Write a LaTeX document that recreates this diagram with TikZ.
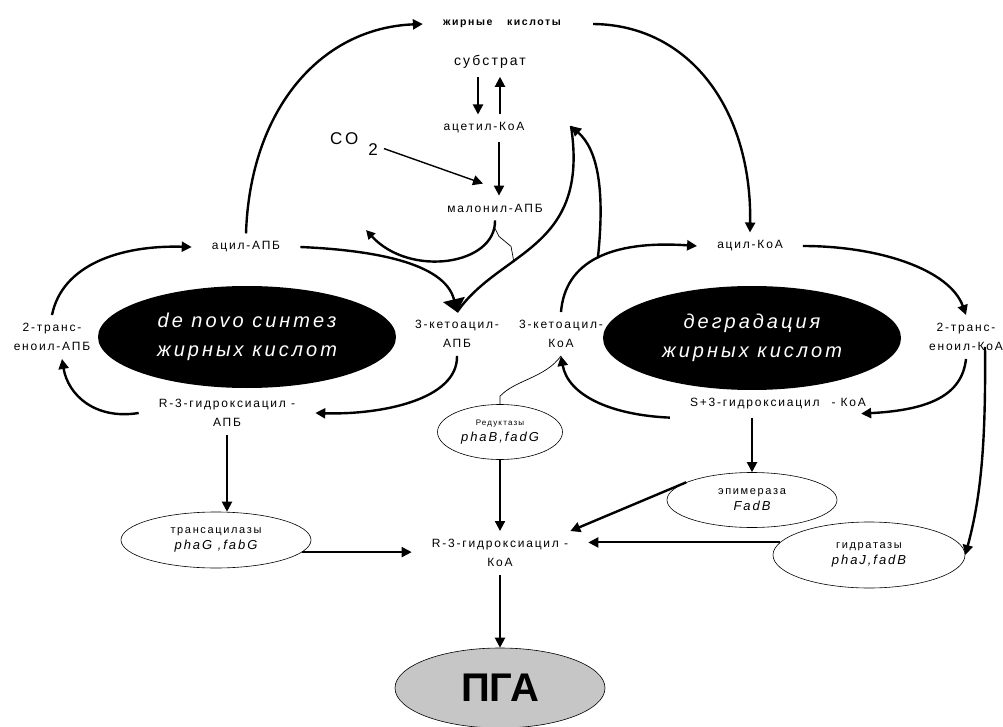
\documentclass[tikz,border=0pt]{standalone}
\usepackage{fontspec}
\setmainfont{Liberation Sans}
\newfontfamily\spaced[LetterSpace=15]{Liberation Sans}
\usetikzlibrary{arrows.meta, positioning, shapes.geometric}
\tikzset{>/.tip={Triangle[width=10pt,length=10pt]}}
\tikzset{
  lbl/.style={font=\spaced\fontsize{12}{19}\selectfont, align=center, inner xsep=20pt, inner ysep=8pt},
  cyc/.style={ellipse, fill=black, text=white, font=\spaced\itshape\fontsize{20}{29}\selectfont, align=center, inner sep=0pt, minimum width=298pt, minimum height=102pt},
  enz/.style={ellipse, draw, line width=0.6pt, align=center, inner sep=0pt, font=\spaced\fontsize{11}{16}\selectfont},
  flow/.style={->, line width=2.4pt},
  arr/.style={->, line width=2pt},
  thinline/.style={line width=0.7pt},
  bigtip/.style={-{Triangle[width=22pt,length=13pt]}},
}
\begin{document}
\begin{tikzpicture}[x=1pt, y=-1pt]
\useasboundingbox (0,0) rectangle (1003,727);
\node[lbl, font=\spaced\bfseries\fontsize{10.5}{12}\selectfont] (fa) at (502,24) {жирные\hspace{1.4em}кислоты};
\node[lbl, font=\spaced\fontsize{14}{16}\selectfont] (sub) at (490,62) {субстрат};
\node[lbl] (acoa) at (484,128) {ацетил-КоА};
\node[font=\spaced\fontsize{17}{18}\selectfont, anchor=base west, inner sep=0pt] (co) at (330,145) {CO\hspace{10pt}\raisebox{-11pt}{2}};
\node[lbl] (mal) at (495,208) {малонил-АПБ};
\node[lbl] (aacp) at (246,247) {ацил-АПБ};
\node[lbl] (acylcoa) at (750,246) {ацил-КоА};
\node[cyc] (denovo) at (247,337) {de novo синтез\\жирных кислот};
\node[cyc, minimum height=104pt] (degr) at (752,338) {деградация\\жирных кислот};
\node[lbl] (enacp) at (52,337) {2-транс-\\еноил-АПБ};
\node[lbl] (encoa) at (966,337) {2-транс-\\еноил-КоА};
\node[lbl] (ketacp) at (457,334) {3-кетоацил-\\АПБ};
\node[lbl] (ketcoa) at (561,334) {3-кетоацил-\\КоА};
\node[lbl] (hacp) at (227,413) {R-3-гидроксиацил -\\АПБ};
\node[lbl] (hscoa) at (778,404) {S+3-гидроксиацил\quad - КоА};
\node[lbl] (hrcoa) at (500,553) {R-3-гидроксиацил -\\КоА};
\node[enz, minimum width=125pt, minimum height=55pt] (red) at (500,432) {{\fontsize{8}{10}\selectfont Редуктазы}\\{\itshape\fontsize{13}{15}\selectfont phaB,fadG}};
\node[enz, minimum width=190pt, minimum height=56pt] (tra) at (216,540) {трансацилазы\\{\itshape\fontsize{13}{15}\selectfont phaG ,fabG\hspace{12pt}}};
\node[enz, minimum width=170pt, minimum height=55pt] (epi) at (752,500) {эпимераза\\{\itshape\fontsize{13}{15}\selectfont FadB}};
\node[enz, minimum width=192pt, minimum height=66pt] (hyd) at (869,555) {гидратазы\\{\itshape\fontsize{13}{15}\selectfont phaJ,fadB}};
\node[ellipse, draw, line width=0.6pt, fill=gray!45, minimum width=210pt, minimum height=80pt, font=\bfseries\fontsize{40}{44}\selectfont] (pha) at (500,688) {ПГА};
\coordinate (thio) at (571,126);

\draw[flow] (aacp.north) .. controls (250,110) and (320,28) .. (fa.west);
\draw[flow] ([xshift=12pt]fa.east) .. controls (690,25) and (752,110) .. (acylcoa.north);
\draw[arr] ([xshift=-12pt]sub.south) -- ([xshift=-12pt]sub.south |- acoa.north);
\draw[arr] ([xshift=10pt]sub.south |- acoa.north) -- ([xshift=10pt]sub.south);
\draw[arr] ([xshift=15pt]acoa.south) -- ([xshift=15pt]acoa.south |- mal.north);
\draw[line width=1.4pt, ->] ([xshift=6pt,yshift=-4pt]co.east) -- ([xshift=-12pt,yshift=12pt]mal.north);

\draw[flow] (enacp.north) .. controls (62,265) and (120,245) .. (aacp.west);
\draw[flow] (hacp.west) .. controls (95,420) and (68,395) .. ([xshift=10pt]enacp.south);
\draw[flow] (ketacp.south) .. controls (458,400) and (380,415) .. (hacp.east);
\draw[line width=2.4pt, bigtip] (aacp.east) .. controls (370,250) and (445,262) .. (ketacp.north);
\draw[line width=2.4pt] (thio) .. controls (590,250) and (500,250) .. (ketacp.north);
\draw[flow, -{Triangle[width=9pt,length=9pt]}] (mal.south) .. controls (496,265) and (410,278) .. (366,230);
\draw[thinline] ([yshift=-8pt]mal.south) -- ++(4,8) -- ++(12,10) -- ++(3,16);

\draw[flow] (ketcoa.north) .. controls (565,262) and (610,240) .. node[coordinate, pos=0.5] (jn) {} (acylcoa.west);
\draw[flow] (jn) .. controls (605,190) and (598,150) .. (thio);
\draw[flow] (acylcoa.east) .. controls (880,246) and (950,270) .. (encoa.north);
\draw[flow] (encoa.south) .. controls (962,395) and (930,410) .. ([xshift=-25pt,yshift=4pt]hscoa.south east);
\draw[flow] (hscoa.south west) .. controls (610,415) and (568,395) .. (ketcoa.south);
\draw[thinline] (red.north) -- ++(0,-8) .. controls (515,380) and (545,378) .. (ketcoa.south);
\draw[flow] ([xshift=19pt,yshift=12pt]encoa.south) .. controls (986,450) and (980,500) .. (hyd.east);

\draw[arr] (epi.north |- hscoa.south) -- (epi.north);
\draw[flow] (epi.165) -- ([xshift=-18pt]hrcoa.north east);
\draw[arr] (hyd.172) -- (hyd.172 -| hrcoa.east);
\draw[arr] (tra.-8) -- (tra.-8 -| hrcoa.west);
\draw[arr] (red.south) -- (hrcoa.north);
\draw[arr] (hacp.south) -- (hacp.south |- tra.north);
\draw[arr] (hrcoa.south) -- (pha.north);
\end{tikzpicture}
\end{document}
